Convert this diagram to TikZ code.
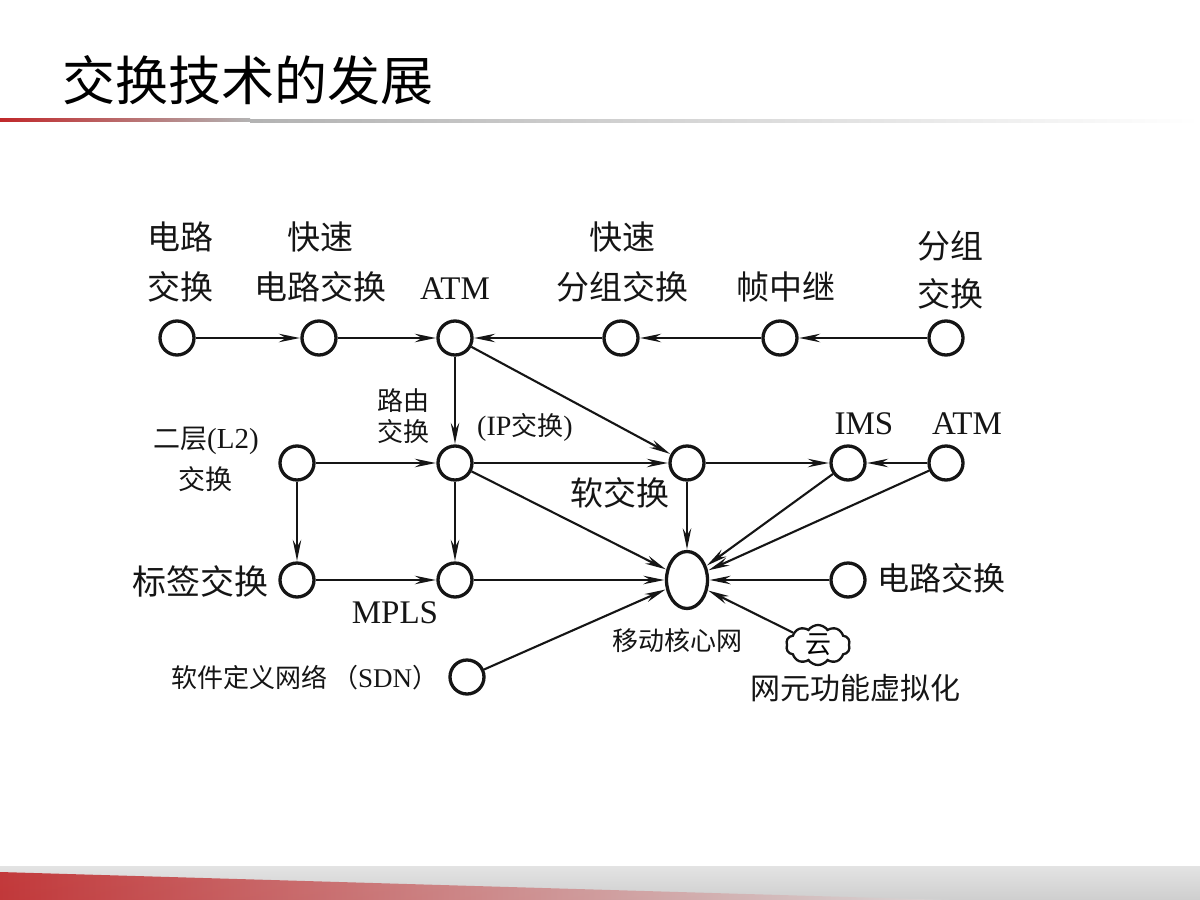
\documentclass[tikz,border=0pt]{standalone}
\usepackage{fontspec}
\setmainfont{Liberation Serif}
\newfontfamily\cjk{Noto Sans CJK SC}
\usetikzlibrary{arrows.meta,shapes.geometric,shapes.symbols}
\definecolor{ink}{HTML}{151515}
\definecolor{barred}{HTML}{C0282A}
\newcommand{\fs}[1]{\fontsize{#1}{#1}\selectfont}
\begin{document}
\begin{tikzpicture}[x=1pt,y=-1pt,
  nd/.style={circle,draw=ink,line width=3.3pt,minimum size=34pt,inner sep=0pt},
  ar/.style={draw=ink,line width=2.1pt,-{Stealth[length=21pt,width=8.5pt,inset=7pt]},shorten >=0.5pt},
  lb/.style={inner sep=0pt,align=center,text=ink},
  big/.style={lb,font=\cjk\fs{33}},
  sml/.style={lb,font=\cjk\fs{26}}
]
\useasboundingbox (0,0) rectangle (1200,900);
\fill[white] (0,0) rectangle (1200,900);

% title
\node[anchor=west,inner sep=0pt,font=\cjk\fs{53}] (title) at (62,80) {交换技术的发展};
\shade[left color=barred, right color=gray!60] (0,118) rectangle (250,121);
\shade[left color=gray!60, right color=white] (250,119) rectangle (1200,122);

% bottom bar
\shade[top color=gray!22, bottom color=gray!38] (0,866) rectangle (1200,900);
\shade[left color=barred, right color=gray!30, opacity=0.9] (0,872) -- (0,900) -- (950,900) -- cycle;

% top row
\node[nd] (c1) at (177,338) {};
\node[nd] (c2) at (319,338) {};
\node[nd] (atm) at (455,338) {};
\node[nd] (fps) at (621,338) {};
\node[nd] (fr) at (780,338) {};
\node[nd] (ps) at (946,338) {};
% middle row
\node[nd] (l2) at (297,463) {};
\node[nd] (ip) at (455,463) {};
\node[nd] (soft) at (687,463) {};
\node[nd] (ims) at (848,463) {};
\node[nd] (atm2) at (946,463) {};
% third row
\node[nd] (lab) at (297,580) {};
\node[nd] (mpls) at (455,580) {};
\node[ellipse,draw=ink,line width=3.3pt,minimum width=41pt,minimum height=57pt,inner sep=0pt] (core) at (687,580) {};
\node[nd] (cs) at (848,580) {};
\node[nd] (sdn) at (467,677) {};
\node[cloud,draw=ink,line width=2.3pt,cloud puffs=10,cloud puff arc=110,aspect=1.6,minimum width=64pt,minimum height=40pt,inner sep=0pt,font=\cjk\fs{26}] (cloud) at (818,645) {云};

% labels
\node[big] (t1a) at (180,237) {电路};
\node[big] (t1b) at (180,287) {交换};
\node[big] (t2a) at (320,237) {快速};
\node[big] (t2b) at (320,287) {电路交换};
\node[lb,font=\fs{33}] (t3) at (455,289) {ATM};
\node[big] (t4a) at (622,237) {快速};
\node[big] (t4b) at (622,287) {分组交换};
\node[big] (t5) at (786,287) {帧中继};
\node[big] (t6a) at (950,246) {分组};
\node[big] (t6b) at (950,294) {交换};
\node[sml] (t7a) at (403,401) {路由};
\node[sml] (t7b) at (403,432) {交换};
\node[lb,font=\fs{28}] (t8) at (525,427) {(IP{\cjk\fs{26}交换})};
\node[lb,font=\fs{29}] (t9a) at (206,441) {{\cjk\fs{27}二层}(L2)};
\node[lb,font=\cjk\fs{27}] (t9b) at (205,479) {交换};
\node[big] (t10) at (620,493) {软交换};
\node[lb,font=\fs{33}] (t11) at (864,424) {IMS};
\node[lb,font=\fs{33}] (t12) at (967,424) {ATM};
\node[lb,font=\cjk\fs{34}] (t13) at (200,581) {标签交换};
\node[lb,font=\fs{33}] (t14) at (395,613) {MPLS};
\node[lb,font=\cjk\fs{26}] (t15) at (677,641) {移动核心网};
\node[lb,font=\cjk\fs{32}] (t16) at (941,578) {电路交换};
\node[lb,font=\fs{27}] (t17) at (305,678) {{\cjk\fs{26}软件定义网络\,（}SDN{\cjk\fs{26}）}};
\node[lb,font=\cjk\fs{30}] (t18) at (855,688) {网元功能虚拟化};

% edges
\draw[ar] (c1) -- (c2);
\draw[ar] (c2) -- (atm);
\draw[ar] (fps) -- (atm);
\draw[ar] (fr) -- (fps);
\draw[ar] (ps) -- (fr);
\draw[ar] (atm) -- (ip);
\draw[ar] (atm) -- (soft);
\draw[ar] (l2) -- (ip);
\draw[ar] (ip) -- (soft);
\draw[ar] (soft) -- (ims);
\draw[ar] (atm2) -- (ims);
\draw[ar] (l2) -- (lab);
\draw[ar] (ip) -- (mpls);
\draw[ar] (lab) -- (mpls);
\draw[ar] (ip) -- (core);
\draw[ar] (soft) -- (core);
\draw[ar] (ims) -- (core);
\draw[ar] (atm2) -- (core);
\draw[ar] (mpls) -- (core);
\draw[ar] (cs) -- (core);
\draw[ar] (sdn) -- (core);
\draw[ar] (cloud) -- (core);
\end{tikzpicture}
\end{document}
